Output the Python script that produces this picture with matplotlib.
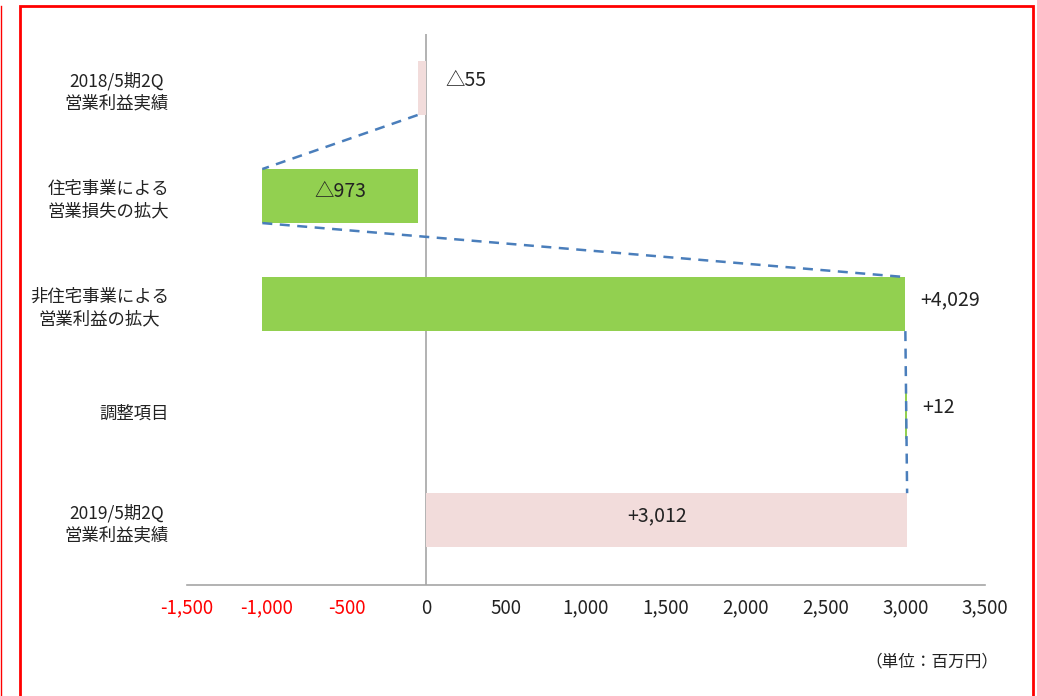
import matplotlib
matplotlib.use("Agg")
import matplotlib.pyplot as plt
from matplotlib.patches import Rectangle
from matplotlib.lines import Line2D

plt.rcParams['font.family'] = ['Noto Sans CJK JP', 'DejaVu Sans']

categories = ["2018/5期2Q\n営業利益実績", "住宅事業による\n営業損失の拡大",
              "非住宅事業による\n営業利益の拡大", "調整項目", "2019/5期2Q\n営業利益実績"]
changes = [-55, -973, 4029, 12]
total_end = 3012
value_labels = ["△55", "△973", "+4,029", "+12", "+3,012"]
tick_values = [-1500, -1000, -500, 0, 500, 1000, 1500, 2000, 2500, 3000, 3500]
tick_labels = ["-1,500", "-1,000", "-500", "0", "500", "1,000", "1,500", "2,000", "2,500", "3,000", "3,500"]

green = "#92D050"
pink = "#F2DCDB"
dash_blue = "#4A7EBB"
txt = "#222222"

fig = plt.figure(figsize=(10.37, 6.96), dpi=100)
W, H = 1037, 696
ax = fig.add_axes([187 / W, 1 - 585 / H, (985 - 187) / W, (585 - 34) / H])

# bar extents
starts, ends = [0], [changes[0]]
run = changes[0]
for c in changes[1:]:
    starts.append(run); ends.append(run + c); run += c
starts.append(0); ends.append(total_end)
colors = [pink, green, green, green, pink]
h = 0.5
ys = list(range(len(categories)))
for y, s, e, col in zip(ys, starts, ends, colors):
    ax.barh(y, abs(e - s), left=min(s, e), height=h, color=col, zorder=2)

# connectors
conn = [
    ((ends[0], 0 + h / 2), (ends[1], 1 - h / 2)),
    ((ends[1], 1 + h / 2), (ends[2], 2 - h / 2)),
    ((ends[2], 2 + h / 2), (ends[4], 4 - h / 2)),
]
for (x0, y0), (x1, y1) in conn:
    ax.plot([x0, x1], [y0, y1], ls=(0, (4, 3)), color=dash_blue, lw=1.8, zorder=3)

# labels
fs_lab = 14
ax.text(120, 0 - 0.07, value_labels[0], ha="left", va="center", fontsize=fs_lab, color=txt)
ax.text((starts[1] + ends[1]) / 2, 1 - 0.04, value_labels[1], ha="center", va="center", fontsize=fs_lab, color=txt)
ax.text(ends[2] + 95, 2 - 0.04, value_labels[2], ha="left", va="center", fontsize=fs_lab, color=txt)
ax.text(ends[3] + 95, 3 - 0.04, value_labels[3], ha="left", va="center", fontsize=fs_lab, color=txt)
ax.text(total_end / 2 - 60, 4 - 0.04, value_labels[4], ha="center", va="center", fontsize=fs_lab, color=txt)

ax.set_xlim(-1500, 3500)
ax.set_ylim(4.6, -0.5)
ax.axvline(0, color="#A6A6A6", lw=1.2, zorder=1)
for sp in ["top", "right", "left"]:
    ax.spines[sp].set_visible(False)
ax.spines["bottom"].set_color("#A6A6A6")
ax.spines["bottom"].set_linewidth(1.2)

ax.set_xticks(tick_values)
ax.set_xticklabels(tick_labels, fontsize=13.5)
for t, v in zip(ax.get_xticklabels(), tick_values):
    t.set_color("#FF0000" if v < 0 else txt)
ax.tick_params(axis="x", length=0, pad=9)
ax.set_yticks(ys)
ax.set_yticklabels(categories, fontsize=12.5, multialignment="center", color=txt, linespacing=1.3)
ax.tick_params(axis="y", length=0, pad=13)

fig.text(998 / W, 1 - 662 / H, "（単位：百万円）", ha="right", va="center", fontsize=12, color=txt)

# red frame
fig.add_artist(Rectangle((20 / W, -0.05), (1033 - 20) / W, 1 - 6 / H + 0.05, transform=fig.transFigure,
                         fill=False, edgecolor="#FF0000", lw=2))
fig.add_artist(Line2D([1 / W, 1 / W], [0, 1 - 6 / H], transform=fig.transFigure, color="#FF0000", lw=1))

fig.savefig("out.png", dpi=100)
